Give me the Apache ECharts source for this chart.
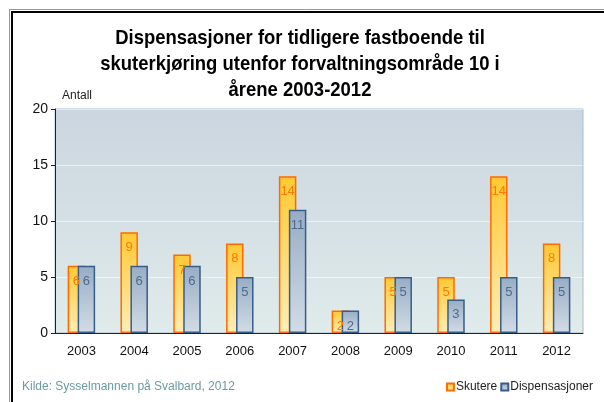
<!DOCTYPE html>
<html>
<head>
<meta charset="utf-8">
<script src="https://cdn.jsdelivr.net/npm/echarts@6/dist/echarts.min.js"></script>
<style>
  html, body { margin: 0; padding: 0; background: #fff; }
  #main { width: 604px; height: 402px; }
</style>
</head>
<body>
<div id="main"></div>
<script>
// data
var years = ['2003', '2004', '2005', '2006', '2007', '2008', '2009', '2010', '2011', '2012'];
var skutere = [6, 9, 7, 8, 14, 2, 5, 5, 14, 8];
var dispensasjoner = [6, 6, 6, 5, 11, 2, 5, 3, 5, 5];
var titleText = 'Dispensasjoner for tidligere fastboende til\nskuterkjøring utenfor forvaltningsområde 10 i\nårene 2003-2012';

var font = '"Liberation Sans", Arial, sans-serif';

var chart = echarts.init(document.getElementById('main'));

function grad(top, bottom) {
    return new echarts.graphic.LinearGradient(0, 0, 0, 1, [
        { offset: 0, color: top },
        { offset: 1, color: bottom }
    ]);
}

var option = {
    animation: false,
    backgroundColor: '#fff',
    // frame, title (squeezed a bit like the original narrow font) and small texts
    graphic: [
        { type: 'line', shape: { x1: 9, y1: 9.5, x2: 604, y2: 9.5 }, style: { stroke: '#999', lineWidth: 1 } },
        { type: 'line', shape: { x1: 9.5, y1: 9, x2: 9.5, y2: 402 }, style: { stroke: '#999', lineWidth: 1 } },
        { type: 'line', shape: { x1: 11, y1: 12, x2: 604, y2: 12 }, style: { stroke: '#000', lineWidth: 2 } },
        { type: 'line', shape: { x1: 12, y1: 11, x2: 12, y2: 402 }, style: { stroke: '#000', lineWidth: 2 } },
        {
            type: 'text', x: 300, y: 25, scaleX: 0.88,
            style: {
                text: titleText,
                font: 'bold 21px ' + font,
                lineHeight: 26,
                align: 'center',
                fill: '#000'
            }
        },
        {
            type: 'text', left: 62, top: 90,
            style: { text: 'Antall', font: '12px ' + font, fill: '#222' }
        },
        {
            type: 'text', left: 22, top: 381,
            style: { text: 'Kilde: Sysselmannen på Svalbard, 2012', font: '12px ' + font, fill: '#6a9aa2' }
        }
    ],
    legend: {
        right: 6,
        top: 376,
        itemWidth: 7,
        itemHeight: 7,
        itemGap: 3,
        icon: 'rect',
        textStyle: { fontFamily: font, fontSize: 12, color: '#222', padding: [0, 0, 0, -3] },
        data: ['Skutere', 'Dispensasjoner']
    },
    grid: {
        left: 55,
        right: 21,
        top: 109,
        bottom: 69,
        show: true,
        backgroundColor: grad('#cad5df', '#e0ebeb'),
        borderColor: '#a9bdd0',
        borderWidth: 1
    },
    xAxis: {
        type: 'category',
        data: years,
        axisLine: { lineStyle: { color: '#222', width: 1 } },
        axisTick: { length: 4, lineStyle: { color: '#222' } },
        axisLabel: { fontFamily: font, fontSize: 13, color: '#111', margin: 12 }
    },
    yAxis: {
        type: 'value',
        min: 0,
        max: 20,
        interval: 5,
        axisLine: { show: true, lineStyle: { color: '#222', width: 1 } },
        axisTick: { show: true, length: 4, lineStyle: { color: '#222' } },
        axisLabel: { fontFamily: font, fontSize: 14, color: '#111', margin: 7 },
        splitLine: { lineStyle: { color: 'rgba(255,255,255,0.55)', width: 1 } }
    },
    series: [
        {
            name: 'Skutere',
            type: 'bar',
            data: skutere,
            barWidth: 17.5,
            barGap: '-43%',
            itemStyle: {
                color: grad('#ffc933', '#ffedb5'),
                borderColor: '#ff6a00',
                borderWidth: 1.5
            },
            label: {
                show: true,
                position: 'insideTop',
                distance: 9,
                fontFamily: font,
                fontSize: 13,
                color: '#ff7a00'
            }
        },
        {
            name: 'Dispensasjoner',
            type: 'bar',
            data: dispensasjoner,
            barWidth: 17.5,
            itemStyle: {
                color: grad('#97adc5', '#d2dce5'),
                borderColor: '#375d88',
                borderWidth: 1.5
            },
            label: {
                show: true,
                position: 'insideTop',
                distance: 9,
                fontFamily: font,
                fontSize: 13,
                color: '#4d6b8c'
            }
        }
    ]
};

chart.setOption(option);
</script>
</body>
</html>
